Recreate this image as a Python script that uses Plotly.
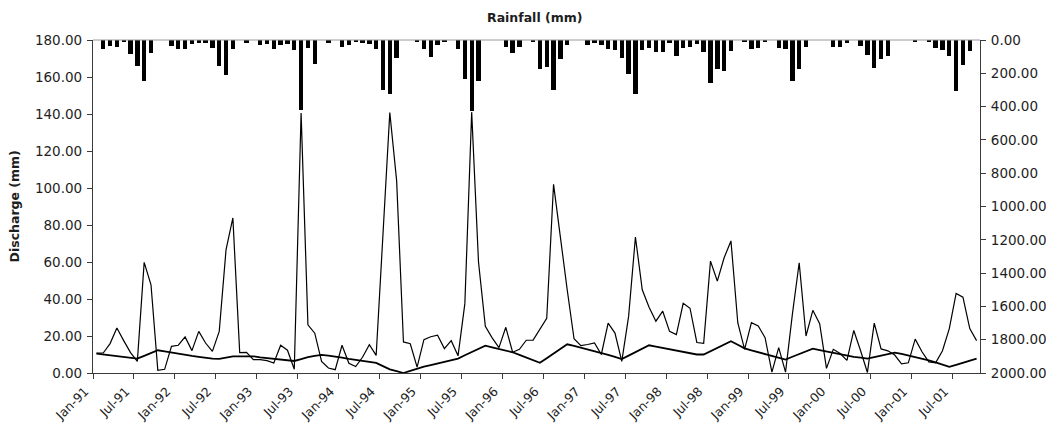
import plotly.graph_objects as go

# Monthly series Jan-91 .. Oct-01 (130 months)
start_year = 1991
n_months = 130

rainfall_mm = [
    0, 56, 36, 40, 10, 86, 156, 246, 76, 0,
    0, 36, 56, 52, 26, 16, 20, 46, 156, 212,
    52, 0, 20, 0, 30, 22, 52, 33, 22, 62,
    422, 46, 143, 0, 16, 0, 40, 31, 10, 17,
    25, 55, 303, 325, 106, 0, 0, 10, 54, 102,
    28, 14, 0, 54, 232, 424, 248, 0, 0, 0,
    42, 80, 42, 0, 14, 172, 160, 300, 112, 30,
    0, 0, 30, 20, 30, 55, 58, 110, 204, 325,
    58, 50, 70, 70, 18, 95, 50, 45, 22, 70,
    256, 176, 184, 64, 0, 10, 52, 50, 10, 0,
    50, 56, 248, 176, 40, 0, 0, 0, 42, 40,
    18, 0, 34, 88, 168, 114, 96, 0, 0, 0,
    14, 0, 11, 48, 63, 98, 305, 150, 68, 0,
]

observed_q = [
    10.8, 10.8, 15.9, 24.3, 17.5, 11.0, 6.3, 59.8, 47.7, 1.5,
    2.0, 14.4, 15.0, 19.5, 12.1, 22.5, 16.2, 11.7, 22.5, 66.7,
    83.8, 11.0, 11.2, 7.2, 7.2, 6.7, 5.4, 15.0, 12.3, 2.0,
    140.5, 26.0, 21.5, 6.3, 2.7, 1.8, 15.0, 5.3, 3.5, 8.5,
    15.3, 9.5, 75.0, 140.8, 104.0, 16.8, 15.8, 3.2, 18.0, 19.6,
    20.4, 13.2, 17.5, 9.3, 37.5, 141.0, 60.0, 25.3, 19.0, 13.7,
    24.7, 11.2, 12.8, 17.7, 17.8, 23.5, 29.5, 102.0, 73.0, 45.0,
    18.5, 14.8, 15.4, 16.3, 10.0, 27.0, 21.6, 6.3, 30.6, 73.5,
    45.0, 35.6, 28.0, 33.4, 22.5, 20.8, 37.7, 35.0, 16.5, 16.0,
    60.5, 49.7, 62.3, 71.4, 27.2, 12.8, 27.2, 25.4, 19.1, 0.5,
    13.7, 0.5, 31.7, 59.6, 20.0, 33.9, 26.7, 2.5, 12.8, 10.5,
    6.8, 23.0, 12.0, 0.3, 27.0, 13.0, 12.0, 9.7, 5.0, 5.5,
    18.3, 11.5, 6.0, 5.5, 12.0, 24.0, 43.0, 41.0, 24.0, 17.5,
]

simulated_q = [
    10.5, 10.0, 9.5, 9.0, 8.6, 8.1, 7.8, 9.3, 10.8, 12.3,
    11.7, 11.0, 10.4, 9.8, 9.2, 8.7, 8.1, 7.8, 7.6, 8.3,
    9.0, 9.0, 9.0, 9.0, 8.5, 8.1, 7.6, 7.2, 6.8, 6.5,
    7.5, 8.6, 9.2, 9.8, 9.4, 9.0, 8.3, 7.6, 7.1, 6.7,
    6.1, 5.5, 3.7, 2.0, 1.0, 0.0, 1.2, 2.5, 3.4, 4.3,
    5.2, 6.0, 6.9, 7.8, 9.6, 11.3, 13.1, 14.8, 13.9, 13.0,
    12.1, 11.2, 9.8, 8.4, 6.9, 5.5, 8.0, 10.5, 13.0, 15.5,
    14.6, 13.7, 12.8, 11.9, 11.0, 9.8, 8.7, 7.5, 9.4, 11.3,
    13.1, 15.0, 14.3, 13.6, 12.9, 12.1, 11.4, 10.7, 10.0, 10.0,
    11.8, 13.6, 15.4, 17.2, 15.3, 13.3, 12.2, 11.2, 10.1, 9.0,
    8.2, 7.3, 8.8, 10.3, 11.7, 13.2, 12.4, 11.6, 10.8, 10.0,
    9.2, 8.7, 8.3, 7.8, 8.6, 9.4, 10.2, 11.0, 10.3, 9.5,
    8.8, 8.0, 6.8, 5.7, 4.5, 3.3, 4.4, 5.6, 6.7, 7.8,
]

month_index = list(range(n_months))
tick_positions = list(range(0, n_months, 6))
tick_labels = [("Jan-" if (m % 12) == 0 else "Jul-") + f"{(start_year + m // 12) % 100:02d}"
               for m in tick_positions]

FONT = "DejaVu Sans, Verdana, sans-serif"
AX = "#3a3a3a"
TXT = "#1e1e1e"

fig = go.Figure()
fig.add_trace(go.Bar(x=month_index, y=rainfall_mm, yaxis="y2", width=0.64,
                     marker=dict(color="black", line=dict(width=0)), name="Rainfall"))
fig.add_trace(go.Scatter(x=month_index, y=observed_q, mode="lines",
                         line=dict(color="black", width=1.2), name="Observed"))
fig.add_trace(go.Scatter(x=month_index, y=simulated_q, mode="lines",
                         line=dict(color="black", width=1.8), name="Simulated"))

fig.update_layout(
    width=1046, height=417,
    margin=dict(l=85, r=74, t=32, b=52, autoexpand=False),
    paper_bgcolor="white", plot_bgcolor="white",
    showlegend=False, bargap=0,
    font=dict(family=FONT, size=13.5, color=TXT),
    xaxis=dict(range=[-0.5001, n_months - 0.5], tickmode="array",
               tickvals=[t - 0.5 for t in tick_positions], ticktext=tick_labels,
               tickangle=-45, ticks="outside", ticklen=5, tickcolor=AX,
               ticklabelshift=-8, ticklabelstandoff=0,
               showgrid=False, zeroline=False, automargin=False,
               showline=True, linecolor=AX, linewidth=1.2,
               tickfont=dict(size=12.5)),
    yaxis=dict(range=[0, 180], dtick=20, tickformat=".2f", ticks="outside",
               ticklen=5, tickcolor=AX, showgrid=False, zeroline=False,
               automargin=False,
               showline=True, linecolor=AX, linewidth=1.2, ticklabelstandoff=2),
    yaxis2=dict(range=[2000, 0], dtick=200, tickformat=".2f", overlaying="y",
                side="right", ticks="outside", ticklen=5, tickcolor=AX,
                automargin=False,
                showgrid=False, zeroline=False, showline=True, linecolor=AX,
                linewidth=1.2, ticklabelstandoff=2),
    shapes=[dict(type="line", xref="paper", yref="paper", x0=0, x1=1, y0=1, y1=1,
                 line=dict(color="#9a9a9a", width=1))],
    annotations=[
        dict(text="<b>Rainfall (mm)</b>", x=0.498, xref="paper", y=1.0, yref="paper",
             yanchor="bottom", yshift=13, showarrow=False, font=dict(size=12.5)),
        dict(text="<b>Discharge (mm)</b>", x=-0.088, y=0.5, xref="paper", yref="paper",
             xanchor="center", textangle=-90, showarrow=False, font=dict(size=12.5)),
    ],
)

fig.write_html("out.html")
